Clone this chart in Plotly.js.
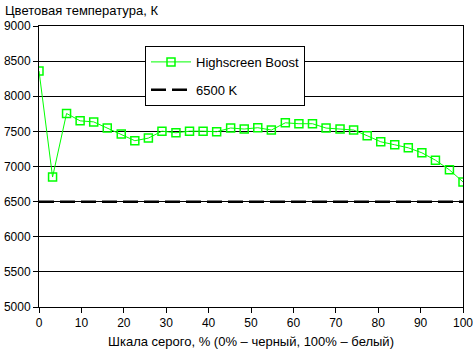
<!DOCTYPE html>
<html><head><meta charset="utf-8">
<script src="https://cdn.plot.ly/plotly-3.0.1.min.js"></script>
<style>body{margin:0;background:#fff}#c{width:473px;height:349px}</style>
</head><body><div id="c"></div>
<script>
const grayPercent = [0,3.2,6.5,9.7,12.9,16.1,19.4,22.6,25.8,29.0,32.3,35.5,38.7,41.9,45.2,48.4,51.6,54.8,58.1,61.3,64.5,67.7,71.0,74.2,77.4,80.6,83.9,87.1,90.3,93.5,96.8,100];
const colorTemp = [8360,6850,7755,7650,7635,7548,7462,7367,7404,7503,7480,7503,7503,7495,7548,7533,7552,7519,7622,7609,7609,7547,7533,7519,7438,7352,7309,7266,7195,7090,6952,6781];
const refX = [0,100];
const refY = [6500,6500];
const seriesName = 'Highscreen Boost';
const refName = '6500 K';
const yTitle = 'Цветовая температура, К';
const xTitle = 'Шкала серого, % (0% – черный, 100% – белый)';

const font = {family:'Liberation Sans, Arial, sans-serif', size:12, color:'#000'};
const data = [
  {x:grayPercent, y:colorTemp, name:seriesName, type:'scatter', mode:'lines+markers',
   legendgroup:'a',
   line:{color:'#00ff00', width:1},
   marker:{symbol:'square-open', size:8, color:'#00ff00', line:{width:1.5}}},
  {x:refX, y:refY, name:refName, type:'scatter', mode:'lines', legendgroup:'b',
   line:{color:'#000', width:2.5, dash:'15px,6px'}}
];
const layout = {
  width:473, height:349,
  margin:{l:38.5, r:9.5, t:26, b:42},
  paper_bgcolor:'#fff', plot_bgcolor:'#fff',
  font:font,
  showlegend:true,
  legend:{x:0.25, y:0.929, xanchor:'left', yanchor:'top', bordercolor:'#000', borderwidth:1,
    bgcolor:'#fff', font:{family:font.family, size:13, color:'#000'}, itemwidth:40,
    traceorder:'grouped', tracegroupgap:8},
  xaxis:{range:[0,100], dtick:10, tick0:0, showgrid:false, zeroline:false,
    showline:true, linecolor:'#000', linewidth:1, mirror:true,
    ticks:'outside', ticklen:5, tickcolor:'#000', tickfont:font, ticklabeloverflow:'allow',
    title:{text:xTitle, font:{family:font.family, size:13, color:'#000'}, standoff:8}},
  yaxis:{range:[5000,9000], dtick:500, tick0:5000, showgrid:true, gridcolor:'#000', gridwidth:1,
    zeroline:false, showline:true, linecolor:'#000', linewidth:1, mirror:true,
    ticks:'outside', ticklen:5, tickcolor:'#000', tickfont:font},
  annotations:[{text:yTitle, xref:'paper', yref:'paper', x:-0.085, y:1.0, yshift:16,
    xanchor:'left', yanchor:'middle', showarrow:false,
    font:{family:font.family, size:13, color:'#000'}}]
};
Plotly.newPlot('c', data, layout, {displayModeBar:false, staticPlot:true});
</script></body></html>
